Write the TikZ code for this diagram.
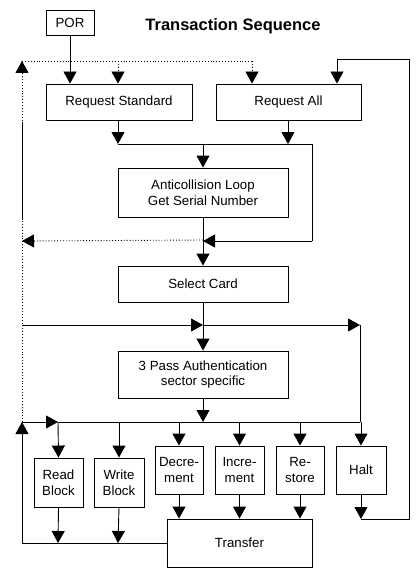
\documentclass[tikz,border=0pt]{standalone}
\usepackage{fontspec}
\setmainfont{Liberation Sans}
\usetikzlibrary{arrows.meta}
\begin{document}
\begin{tikzpicture}[x=1pt,y=-1pt,
  line/.style={line width=0.9pt},
  dotline/.style={line width=0.9pt,dotted},
  arr/.style={-{Triangle[length=12pt,width=13pt]}},
  box/.style={draw,line width=0.9pt,inner sep=1pt,align=center,
    font=\fontsize{13.3}{15.5}\selectfont},
  title/.style={font=\fontsize{16.5}{19}\selectfont\bfseries}]
\useasboundingbox (0,0) rectangle (418,575);
% nodes
\node[box,minimum width=48pt,minimum height=25pt] (por) at (70,22.5) {POR};
\node[title] (ttl) at (233,26) {Transaction Sequence};
\node[box,minimum width=146pt,minimum height=36pt] (rs) at (119,102) {Request Standard};
\node[box,minimum width=145pt,minimum height=36pt] (ra) at (288.5,102) {Request All};
\node[box,minimum width=170pt,minimum height=49pt] (ac) at (203,192.5) {Anticollision Loop\\Get Serial Number};
\node[box,minimum width=170pt,minimum height=36pt] (sc) at (203,284) {Select Card};
\node[box,minimum width=170pt,minimum height=47pt] (ap) at (203,374.5) {3 Pass Authentication\\sector specific};
\node[box,minimum width=49pt,minimum height=49pt] (rb) at (58.5,482.5) {Read\\Block};
\node[box,minimum width=50pt,minimum height=49pt] (wb) at (119,482.5) {Write\\Block};
\node[box,minimum width=48pt,minimum height=48pt] (dec) at (179,470) {Decre-\\ment};
\node[box,minimum width=49pt,minimum height=48pt] (inc) at (239.5,470) {Incre-\\ment};
\node[box,minimum width=48pt,minimum height=48pt] (res) at (300,470) {Re-\\store};
\node[box,minimum width=50pt,minimum height=48pt] (halt) at (361,470) {Halt};
\node[box,minimum width=145pt,minimum height=48pt] (tr) at (239.5,543) {Transfer};
% junction coordinates
\coordinate (tl) at (22,61);
\coordinate (tr1) at (252,61);
\coordinate (tm) at (118,61);
\coordinate (jl) at (118,144);
\coordinate (jm) at (203,144);
\coordinate (jr) at (312,144);
\coordinate (jra) at (288,144);
\coordinate (kr) at (312,241);
\coordinate (km) at (203,241);
\coordinate (kl) at (22,241);
\coordinate (dm) at (203,240);
\coordinate (sa) at (22,122);
\coordinate (sb) at (22,220);
\coordinate (ml) at (22,325);
\coordinate (mm) at (203,325);
\coordinate (mr) at (360,325);
\coordinate (bl) at (22,422);
\coordinate (bx) at (58,422);
\coordinate (bm) at (203,422);
\coordinate (br) at (360,422);
\coordinate (rbo) at (58,543);
\coordinate (wbo) at (118,543);
\coordinate (llo) at (22,543);
\coordinate (ho) at (361,519);
\coordinate (hr) at (409,519);
\coordinate (htop) at (409,59);
\coordinate (hal) at (337,59);
% top connectors
\draw[line,arr] (por.south) -- (por.south |- rs.north);
\draw[dotline,arr] (bl) -- (tl);
\draw[line] (sa) -- (sb);
\draw[dotline] (tl) -- (tr1);
\draw[dotline,arr] (tm) -- (tm |- rs.north);
\draw[dotline,arr] (tr1) -- (tr1 |- ra.north);
\draw[line,arr] (hal) -- (hal |- ra.north);
\draw[line,arr] (rs.south -| jl) -- (jl);
\draw[line,arr] (ra.south -| jra) -- (jra);
\draw[line] (jl) -- (jr) -- (kr);
\draw[line,arr] (kr) -- (km);
\draw[line,arr] (jm) -- (ac.north);
\draw[line,arr] (ac.south) -- (sc.north);
\draw[dotline,arr] (dm) -- (kl);
% middle
\draw[line,arr] (ml) -- (mm);
\draw[line,arr] (mm) -- (mr);
\draw[line] (mr) -- (br);
\draw[line,arr] (sc.south) -- (ap.north);
\draw[line,arr] (ap.south) -- (bm);
% bus
\draw[line,arr] (bl) -- (bx);
\draw[line] (bx) -- (br);
\draw[line,arr] (bx) -- (rb.north);
\draw[line,arr] (wb.north |- bl) -- (wb.north);
\draw[line,arr] (dec.north |- bl) -- (dec.north);
\draw[line,arr] (inc.north |- bl) -- (inc.north);
\draw[line,arr] (res.north |- bl) -- (res.north);
\draw[line,arr] (halt.north |- bl) -- (halt.north);
% bottom
\draw[line,arr] (rb.south) -- (rbo);
\draw[line,arr] (wb.south) -- (wbo);
\draw[line,arr] (dec.south) -- (dec.south |- tr.north);
\draw[line,arr] (inc.south) -- (inc.south |- tr.north);
\draw[line,arr] (res.south) -- (res.south |- tr.north);
\draw[line,arr] (halt.south) -- (ho);
\draw[line] (ho) -- (hr) -- (htop) -- (hal);
\draw[line] (tr.west) -- (llo);
\draw[line,arr] (llo) -- (bl);
\end{tikzpicture}
\end{document}
